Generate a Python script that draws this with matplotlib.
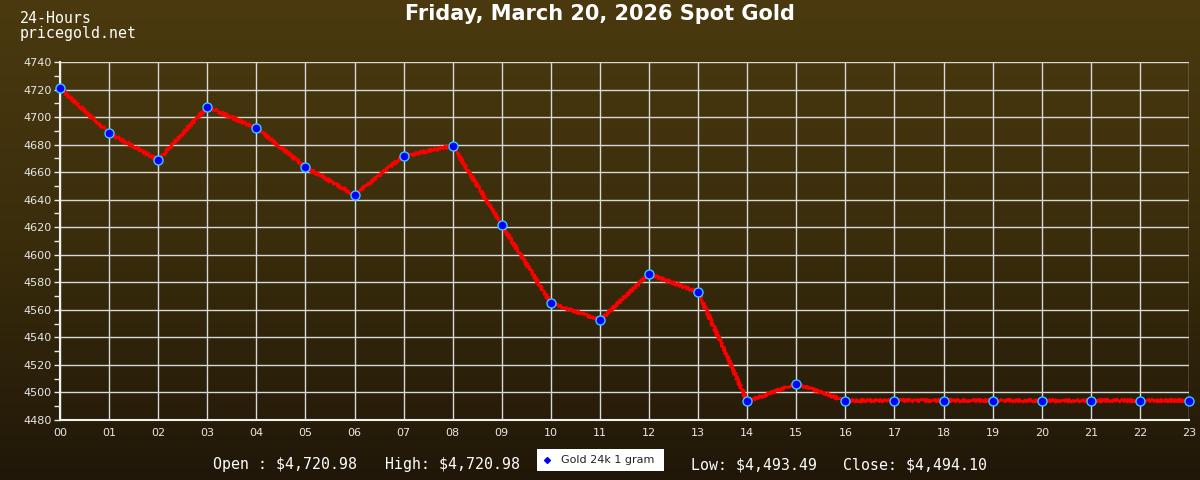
import numpy as np
import matplotlib.pyplot as plt
from matplotlib.colors import LinearSegmentedColormap

hours = ['00', '01', '02', '03', '04', '05', '06', '07', '08', '09', '10', '11',
         '12', '13', '14', '15', '16', '17', '18', '19', '20', '21', '22', '23']
prices = [4720.98, 4688.4, 4668.8, 4707.3, 4692.1, 4663.7, 4643.4, 4671.7,
          4679.0, 4621.6, 4565.0, 4552.6, 4586.0, 4573.0, 4493.49, 4506.2,
          4494.1, 4494.1, 4494.1, 4494.1, 4494.1, 4494.1, 4494.1, 4494.1]
title = 'Friday, March 20, 2026 Spot Gold'
series_name = 'Gold 24k 1 gram'
stats = ['Open : $4,720.98', 'High: $4,720.98', 'Low: $4,493.49', 'Close: $4,494.10']
stats_x = [213, 385, 691, 843]

fig = plt.figure(figsize=(12, 4.8), dpi=100)

# gradient background
bg = fig.add_axes([0, 0, 1, 1], zorder=-1)
cmap = LinearSegmentedColormap.from_list('bg', ['#4b3a0f', '#3a2d0c', '#201708'])
bg.imshow(np.linspace(0, 1, 256).reshape(-1, 1), aspect='auto', cmap=cmap,
          extent=[0, 1, 0, 1])
bg.axis('off')

ax = fig.add_axes([60 / 1200, 60 / 480, 1129 / 1200, 358 / 480])
ax.set_facecolor('none')
x = np.arange(len(hours))
line, = ax.plot(x, prices, color='#ff0000', linewidth=1.8, zorder=3)
line.set_sketch_params(1.6, 3, 2)
ax.plot(x, prices, linestyle='none', marker='o', markersize=6.5,
        markerfacecolor='#0000ff', markeredgecolor='#33ccff', markeredgewidth=1,
        zorder=4, clip_on=False)

ax.set_xlim(0, 23)
ax.set_ylim(4480, 4740)
ax.set_xticks(x)
ax.set_xticklabels(hours)
ax.set_yticks(np.arange(4480, 4741, 20))
ax.set_yticks(np.arange(4480, 4741, 10), minor=True)
ax.grid(True, which='major', color='#d8d8d8', linewidth=1)
ax.tick_params(axis='both', which='both', colors='#e8e8e8', labelsize=8,
               length=4, width=1)
ax.tick_params(axis='x', length=0, pad=6)
ax.tick_params(axis='y', pad=2)
for side in ['top', 'right']:
    ax.spines[side].set_visible(False)
for side in ['left', 'bottom']:
    ax.spines[side].set_color('#f0f0f0')
    ax.spines[side].set_linewidth(1.5)

fig.text(0.5, 1 - 14 / 480, title, ha='center', va='center', color='white',
         fontsize=15, fontweight='bold', family='DejaVu Sans')
fig.text(20 / 1200, 1 - 26 / 480, '24-Hours\npricegold.net', ha='left', va='center',
         color='white', fontsize=10.7, family='DejaVu Sans Mono', linespacing=0.95)

# bottom line: stats and legend box
for label, px in zip(stats, stats_x):
    fig.text(px / 1200, 1 - 465 / 480, label, ha='left', va='center', color='white',
             fontsize=10.7, family='DejaVu Sans Mono')

leg = fig.add_axes([537 / 1200, 1 - 471 / 480, 127 / 1200, 22 / 480])
leg.set_xlim(0, 127)
leg.set_ylim(0, 22)
leg.set_facecolor('white')
leg.set_xticks([])
leg.set_yticks([])
for s in leg.spines.values():
    s.set_visible(False)
leg.plot([10], [11], marker='D', markersize=3, color='#0000ff', linestyle='none')
leg.text(24, 11, series_name, ha='left', va='center', color='#222222', fontsize=8)

fig.savefig('out.png', dpi=100)
